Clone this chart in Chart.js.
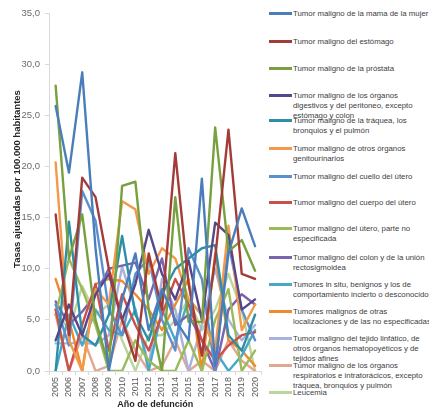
<!DOCTYPE html>
<html><head><meta charset="utf-8">
<script src="https://cdn.jsdelivr.net/npm/chart.js@4/dist/chart.umd.min.js"></script>
<style>
html,body{margin:0;padding:0;background:#fff;}
#wrap{position:relative;width:429px;height:411px;overflow:hidden;font-family:"Liberation Sans",Arial,sans-serif;}
#cbox{position:absolute;left:0;top:0;width:268px;height:411px;}
.li{position:absolute;left:269px;}
.sw{position:absolute;left:0;width:23px;height:3px;}
.tx{position:absolute;left:24px;top:0;font-size:7.8px;line-height:9.7px;color:#404040;white-space:nowrap;}
</style></head>
<body>
<div id="wrap">
  <div id="cbox"><canvas id="c" width="268" height="411"></canvas></div>
  <div id="legend"></div>
</div>
<script>
// ---------- DATA ----------
const years = ['2005','2006','2007','2008','2009','2010','2011','2012','2013','2014','2015','2016','2017','2018','2019','2020'];
const yTicks = [0,5,10,15,20,25,30,35];
const yAxisTitle = 'Tasas ajustadas por 100.000 habitantes';
const xAxisTitle = 'Año de defunción';

const mama            = [25.9,19.4,29.2,12.0, 0.0, 7.0,11.5, 4.0, 8.0, 5.0, 3.0,18.8, 0.5,11.5,15.9,12.2];
const estomago        = [15.3, 3.5,18.9,17.0,10.0, 5.0, 1.0,11.5, 6.0,21.3, 8.5, 1.5,11.0,23.6, 9.5, 9.0];
const prostata        = [27.9,11.0,15.3, 5.0, 0.5,18.1,18.5, 6.0, 0.0,17.0, 4.8, 4.8,23.8,11.7,12.8, 9.8];
const digestivos      = [ 3.0, 6.5, 3.5, 7.5, 9.5, 5.0, 8.5,13.8, 9.5, 7.0,10.8, 5.0,14.5,13.3, 6.0, 7.0];
const traquea         = [ 0.0,14.6, 3.5, 2.5, 5.5,13.2, 5.5, 3.0, 7.5,10.0,11.0,12.0,12.3, 3.5, 2.0, 5.5];
const genitourinarios = [20.4, 3.0, 0.0, 8.0, 6.5,16.6,15.8, 9.5,12.0,11.0, 7.0, 5.5, 2.0,14.2, 4.0, 6.5];
const cuelloUtero     = [ 6.5, 2.5,17.6,14.7, 6.0, 3.5, 9.5,11.0, 5.0, 2.0,12.0, 9.0, 0.0,12.5, 6.0, 3.0];
const cuerpoUtero     = [ 6.0, 0.0, 4.5, 8.5, 2.0, 7.5, 4.5, 2.0, 5.5, 9.0, 6.5, 3.0, 1.0, 2.5, 3.5, 3.8];
const uteroNoEsp      = [ 5.5,11.0, 8.0, 4.5, 0.0, 0.0, 3.0, 1.0, 0.0, 0.0, 3.0, 0.0, 5.0, 8.0, 0.0, 2.0];
const colon           = [ 6.8, 4.5, 5.8, 7.5,10.0,10.3,10.6, 7.0,11.0, 4.5, 5.5, 3.0, 0.0, 6.0, 7.5, 6.5];
const inSitu          = [ 0.0, 5.5, 2.5, 6.0, 4.0, 3.5, 6.0, 0.0, 6.0, 3.0, 7.0, 5.5, 2.0, 0.0, 1.5, 4.0];
const otrasLocal      = [ 9.0, 5.0, 0.0, 8.5, 9.0, 8.8, 7.5, 6.0, 4.0, 6.5, 9.0, 0.0,11.5, 3.0, 2.0, 0.5];
const linfatico       = [ 2.7, 2.7, 2.8, 2.6, 3.5,10.2, 6.0, 0.5, 9.0, 6.0, 0.0, 4.5,10.0, 5.0, 3.0, 4.5];
const respiratorios   = [ 5.5, 0.0, 3.5, 0.0, 0.5, 5.0, 2.0, 0.0, 0.5, 3.0, 0.0, 1.0, 0.0, 3.0, 1.0, 0.0];
const leucemia        = [ 6.0, 4.0, 8.3, 5.5, 6.5, 3.0, 0.0, 3.5, 3.5, 5.0, 7.0, 4.0, 6.0, 9.5, 6.0, 0.0];

const seriesLabels = [
  ['Tumor maligno de la mama de la mujer'],
  ['Tumor maligno del estómago'],
  ['Tumor maligno de la próstata'],
  ['Tumor maligno de los órganos','digestivos y del peritoneo, excepto','estómago y colon'],
  ['Tumor maligno de la tráquea, los','bronquios y el pulmón'],
  ['Tumor maligno de otros órganos','genitourinarios'],
  ['Tumor maligno del cuello del útero'],
  ['Tumor maligno del cuerpo del útero'],
  ['Tumor maligno del útero, parte no','especificada'],
  ['Tumor maligno del colon y de la unión','rectosigmoidea'],
  ['Tumores in situ, benignos y los de','comportamiento incierto o desconocido'],
  ['Tumores malignos de otras','localizaciones y de las no especificadas'],
  ['Tumor maligno del tejido linfático, de','otros órganos hematopoyéticos y de','tejidos afines'],
  ['Tumor maligno de los órganos','respiratorios e intratorácicos, excepto','tráquea, bronquios y pulmón'],
  ['Leucemia']
];
const seriesValues = [mama, estomago, prostata, digestivos, traquea, genitourinarios, cuelloUtero,
  cuerpoUtero, uteroNoEsp, colon, inSitu, otrasLocal, linfatico, respiratorios, leucemia];

// ---------- STYLE / LAYOUT ----------
const colors = ['#4A7EBB','#A33B38','#77A03F','#56478A','#2E8EA9','#F39A4A','#5B8FD0',
  '#C9504B','#9BBB59','#7B63AE','#45AAC8','#F08A2E','#A8B2DC','#E3A690','#BBD69A'];
const legendY = [14,42,69,96,121,149,177,203,229,258,285,312,339,366,393];
const FONT = '"Liberation Sans", Arial, sans-serif';
const LH = 9.7;

const yTitlePlugin = {
  id:'yTitle',
  afterDraw(c){
    const g=c.ctx; g.save();
    g.translate(17,179); g.rotate(-Math.PI/2);
    g.font='bold 9.5px '+FONT; g.fillStyle='#262626';
    g.textAlign='center'; g.textBaseline='middle';
    g.fillText(yAxisTitle,0,0); g.restore();
  }
};

new Chart(document.getElementById('c'), {
  type:'line',
  data:{
    labels:years,
    datasets:seriesValues.map((v,i)=>({
      label:seriesLabels[i].join(' '),
      data:v,
      borderColor:colors[i],
      backgroundColor:colors[i],
      borderWidth:2.4,
      pointRadius:0,
      tension:0,
      fill:false,
      borderCapStyle:'round',
      borderJoinStyle:'round'
    }))
  },
  options:{
    responsive:false,
    animation:false,
    devicePixelRatio:1,
    layout:{padding:{top:13,right:5,left:0,bottom:0}},
    plugins:{legend:{display:false},tooltip:{enabled:false}},
    scales:{
      x:{
        offset:true,
        grid:{display:true,drawOnChartArea:false,offset:true,tickLength:4,color:'#d9d9d9'},
        border:{color:'#d9d9d9'},
        ticks:{minRotation:90,maxRotation:90,autoSkip:false,padding:2,color:'#595959',font:{size:9,family:FONT}},
        title:{display:true,text:xAxisTitle,color:'#262626',font:{size:9,weight:'bold',family:FONT},padding:{top:0,bottom:1}},
        afterFit(s){s.height=40;}
      },
      y:{
        min:0,max:35,
        afterBuildTicks(s){s.ticks=yTicks.map(v=>({value:v}));},
        grid:{display:true,drawOnChartArea:false,tickLength:4,color:'#d9d9d9'},
        border:{color:'#d9d9d9'},
        ticks:{padding:5,color:'#6b6b6b',font:{size:9.5,family:FONT},
          callback:v=>Number(v).toFixed(1).replace('.',',')},
        afterFit(s){s.width=49;}
      }
    }
  },
  plugins:[yTitlePlugin]
});

// ---------- LEGEND ----------
const lg=document.getElementById('legend');
seriesLabels.forEach((lines,i)=>{
  const d=document.createElement('div'); d.className='li';
  d.style.top=(legendY[i]-LH/2)+'px';
  const sw=document.createElement('div'); sw.className='sw';
  sw.style.background=colors[i]; sw.style.top=(LH/2-1.5)+'px';
  const tx=document.createElement('div'); tx.className='tx';
  tx.innerHTML=lines.join('<br>');
  d.appendChild(sw); d.appendChild(tx); lg.appendChild(d);
});
</script>
</body></html>
